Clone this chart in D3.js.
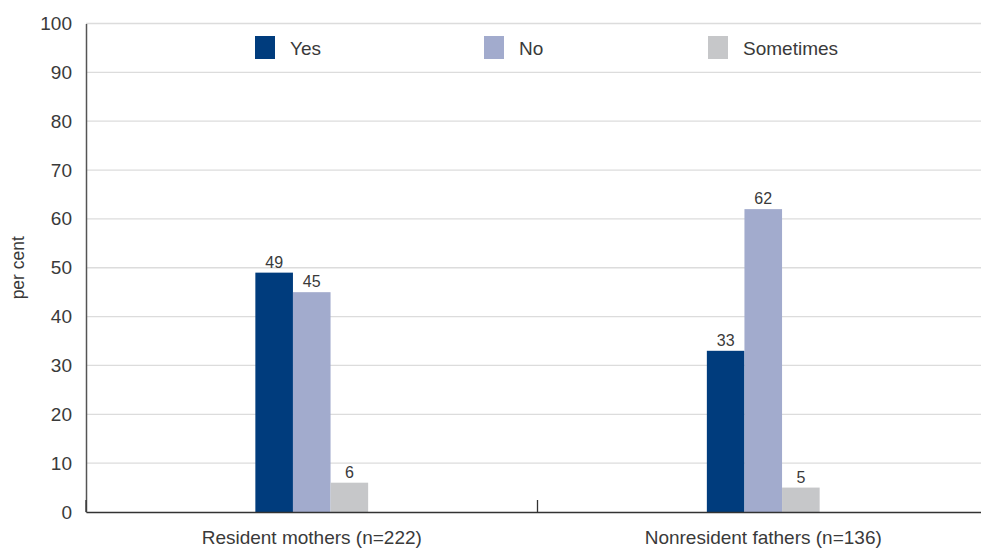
<!DOCTYPE html>
<html>
<head>
<meta charset="utf-8">
<script src="https://cdn.jsdelivr.net/npm/d3@7"></script>
<style>
  html, body { margin: 0; padding: 0; background: #fff; }
  svg text { font-family: "Liberation Sans", Arial, Helvetica, sans-serif; }
</style>
</head>
<body>
<svg id="chart" width="981" height="550"></svg>
<script>
const categories = ["Resident mothers (n=222)", "Nonresident fathers (n=136)"];
const seriesNames = ["Yes", "No", "Sometimes"];
const yesValues = [49, 33];
const noValues = [45, 62];
const sometimesValues = [6, 5];
const yTicks = [0, 10, 20, 30, 40, 50, 60, 70, 80, 90, 100];
const colors = ["#003c7d", "#a2abcd", "#c6c7c9"];

const seriesValues = [yesValues, noValues, sometimesValues];

const svg = d3.select("#chart");
const margin = { left: 86, right: -8, top: 23.5, bottom: 38 };
const width = 981, height = 550;

const x = d3.scaleBand().domain(categories).range([margin.left, width - margin.right]);
const y = d3.scaleLinear().domain([0, 100]).range([height - margin.bottom, margin.top]);

const barW = 37.6;

// horizontal gridlines
svg.append("g").selectAll("line")
  .data(yTicks.filter(d => d > 0))
  .join("line")
  .attr("x1", margin.left).attr("x2", width)
  .attr("y1", d => y(d)).attr("y2", d => y(d))
  .attr("stroke", "#dcdcdc").attr("stroke-width", 1.3);

// y axis labels
const yAxis = svg.append("g").attr("transform", `translate(${margin.left},0)`)
  .call(d3.axisLeft(y).tickValues(yTicks).tickSize(0).tickPadding(14));
yAxis.select(".domain").attr("stroke", "#555").attr("stroke-width", 1.5);
yAxis.selectAll("text").attr("font-size", 19).attr("fill", "#3a3a3a");

// bars and value labels
seriesValues.forEach((vals, si) => {
  const bx = c => x(c) + x.bandwidth() / 2 - 1.5 * barW + si * barW;
  svg.append("g").selectAll("rect")
    .data(categories)
    .join("rect")
    .attr("x", bx)
    .attr("width", barW)
    .attr("y", (c, i) => y(vals[i]))
    .attr("height", (c, i) => y(0) - y(vals[i]))
    .attr("fill", colors[si]);

  svg.append("g").selectAll("text")
    .data(categories)
    .join("text")
    .attr("x", c => bx(c) + barW / 2)
    .attr("y", (c, i) => y(vals[i]) - 5)
    .attr("text-anchor", "middle")
    .attr("font-size", 16)
    .attr("fill", "#3a3a3a")
    .text((c, i) => vals[i]);
});

// x axis
const xAxis = svg.append("g").attr("transform", `translate(0,${y(0)})`)
  .call(d3.axisBottom(x).tickSize(0).tickPadding(19));
xAxis.select(".domain").attr("stroke", "#333").attr("stroke-width", 1.5);
xAxis.selectAll("text").attr("font-size", 19).attr("fill", "#3a3a3a");

// category boundary ticks pointing up
svg.append("g").selectAll("line")
  .data([x(categories[0]), x(categories[1])])
  .join("line")
  .attr("x1", d => d).attr("x2", d => d)
  .attr("y1", y(0)).attr("y2", y(0) - 12)
  .attr("stroke", "#333").attr("stroke-width", 1.3);

// legend
const legendX = [255, 484, 708];
const legend = svg.append("g");
seriesNames.forEach((name, i) => {
  legend.append("rect")
    .attr("x", legendX[i]).attr("y", 36)
    .attr("width", 20).attr("height", 23)
    .attr("fill", colors[i]);
  legend.append("text")
    .attr("x", legendX[i] + 35).attr("y", 55)
    .attr("font-size", 19).attr("fill", "#3a3a3a")
    .text(name);
});

// y axis title
svg.append("text")
  .attr("transform", `translate(24,${(y(0) + y(100)) / 2}) rotate(-90)`)
  .attr("text-anchor", "middle")
  .attr("font-size", 17.5)
  .attr("fill", "#3a3a3a")
  .text("per cent");
</script>
</body>
</html>
